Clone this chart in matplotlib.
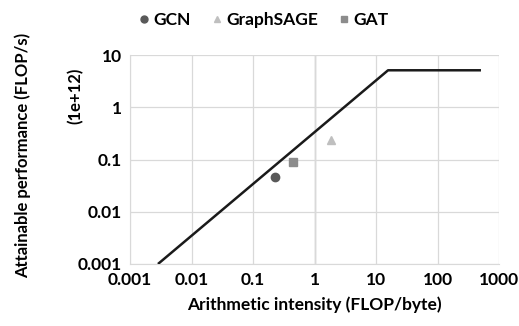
import numpy as np
import matplotlib.pyplot as plt
from matplotlib.lines import Line2D

# roofline
roof_x = [0.00285, 15.7, 509]
roof_y = [0.001, 5.1, 5.1]

# models
models = ['GCN', 'GraphSAGE', 'GAT']
intensity = [0.228, 1.85, 0.45]
perf = [0.046, 0.24, 0.091]
markers = ['o', '^', 's']
colors = ['#595959', '#BFBFBF', '#8C8C8C']

plt.rcParams['font.family'] = ['Lato', 'DejaVu Sans']
plt.rcParams['font.weight'] = 'bold'
fs = 12.5

fig = plt.figure(figsize=(5.19, 3.26), dpi=100)
ax = fig.add_axes([130/519, 62/326, 369/519, 209/326])

ax.set_xscale('log')
ax.set_yscale('log')
ax.set_xlim(0.001, 1000)
ax.set_ylim(0.001, 10)

ax.plot(roof_x, roof_y, color='#1a1a1a', lw=1.8, zorder=3, solid_capstyle='butt')
for m, x, y, mk, c in zip(models, intensity, perf, markers, colors):
    ax.plot(x, y, marker=mk, color=c, ms=6, ls='none', zorder=4)

ax.grid(True, which='major', color='#D9D9D9', lw=0.9)
ax.axvline(1, color='#BFBFBF', lw=1.0, zorder=1)
ax.minorticks_off()
ticks_x = [0.001, 0.01, 0.1, 1, 10, 100, 1000]
ticks_y = [0.001, 0.01, 0.1, 1, 10]
ax.set_xticks(ticks_x)
ax.set_xticklabels(['0.001', '0.01', '0.1', '1', '10', '100', '1000'])
ax.set_yticks(ticks_y)
ax.set_yticklabels(['0.001', '0.01', '0.1', '1', '10'])
ax.tick_params(length=0, labelsize=fs, colors='#000000', pad=6)
for s in ['top', 'right']:
    ax.spines[s].set_visible(False)
for s in ['left', 'bottom']:
    ax.spines[s].set_color('#D9D9D9')

ax.set_xlabel('Arithmetic intensity (FLOP/byte)', fontsize=fs, fontweight='bold', labelpad=6)
fig.text(23/519, 1 - 155/326, 'Attainable performance (FLOP/s)', rotation=90,
         ha='center', va='center', fontsize=12, fontweight='bold')
fig.text(75/519, 1 - 96/326, '(1e+12)', rotation=90,
         ha='center', va='center', fontsize=12, fontweight='bold')

handles = [Line2D([], [], marker=mk, color=c, ls='none', ms=5) for mk, c in zip(markers, colors)]
fig.legend(handles, models, loc='center', bbox_to_anchor=(0.505, 1 - 20/326), ncol=3,
           frameon=False, fontsize=fs, handletextpad=0.05, columnspacing=1.0,
           handlelength=1.0)

fig.savefig('out.png', dpi=100)
